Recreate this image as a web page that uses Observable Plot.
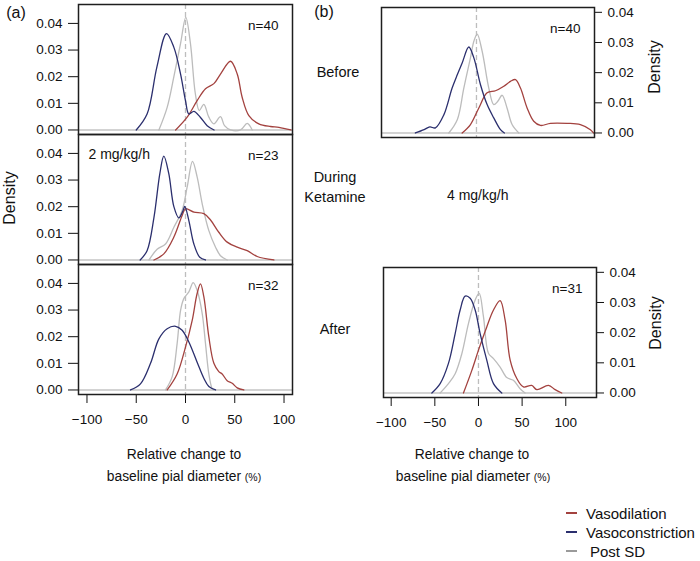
<!DOCTYPE html>
<html>
<head>
<meta charset="utf-8">
<script src="https://cdn.jsdelivr.net/npm/d3@7"></script>
<script src="https://cdn.jsdelivr.net/npm/@observablehq/plot@0.6"></script>
<style>
  html, body { margin: 0; padding: 0; background: #fff; }
  #fig { position: relative; width: 700px; height: 561px; background: #fff; overflow: hidden;
         font-family: "Liberation Sans", Arial, sans-serif; color: #111; }
  .lbl { position: absolute; white-space: nowrap; line-height: 1; }
  .panel { position: absolute; }
</style>
</head>
<body>
<div id="fig"></div>
<script>
// ---------------- data (relative change %, density) ----------------
const xTicks = [-100, -50, 0, 50, 100];
const yTicks = [0, 0.01, 0.02, 0.03, 0.04];
const groups = ["Vasodilation", "Vasoconstriction", "Post SD"];
const groupColors = ["#a3423f", "#2b2f6e", "#bcbcbc"];

// (a) 2 mg/kg/h
const a1Label = "n=40";
const a1Dilation = [[-10,0],[1.7,0.0048],[11.8,0.011],[20.3,0.0155],[28.8,0.0174],[35.5,0.021],[45.7,0.0258],[52.5,0.021],[57.5,0.0123],[64.3,0.0054],[74.4,0.0023],[86.3,0.0013],[94.8,0.001],[107,0]];
const a1Constriction = [[-50,0],[-39,0.006],[-29,0.0237],[-19.3,0.0362],[-11.8,0.031],[-5,0.021],[0,0.011],[3.4,0.006],[8.5,0.007],[15,0.0048],[22,0.0016],[29,0]];
const a1PostSD = [[-27,0],[-18.6,0.0085],[-11.8,0.02],[-5,0.0325],[0.3,0.0423],[5,0.0325],[10,0.0136],[14,0.0073],[18.6,0.0096],[23.7,0.0048],[28.8,0.0023],[35.5,0.005],[39.6,0.0016],[45.7,0],[55.8,0],[62.6,0.0025],[67.7,0]];

const a2Label = "n=23";
const a2Dose = "2 mg/kg/h";
const a2Dilation = [[-32,0],[-22,0.0023],[-11.8,0.0086],[-3.4,0.0167],[0,0.0192],[8.5,0.018],[18.6,0.0174],[25.4,0.015],[33.8,0.0104],[42.3,0.0067],[52.5,0.0048],[62.6,0.0035],[72.8,0.0013],[89.7,0]];
const a2Constriction = [[-46,0],[-39,0.0035],[-32,0.016],[-26,0.0325],[-22,0.039],[-17,0.0325],[-11.8,0.02],[-6.8,0.0158],[-2.4,0.0186],[-0.7,0.0201],[3.4,0.0148],[8.5,0.006],[14.5,0.001],[20.3,0]];
const a2PostSD = [[-37,0],[-28.8,0.004],[-20.3,0.006],[-11.8,0.0123],[-3.4,0.0186],[1.7,0.0274],[7.1,0.037],[11.8,0.0312],[17,0.021],[23.7,0.011],[30.5,0.0048],[35.5,0.0016],[42.3,0]];

const a3Label = "n=32";
const a3Dilation = [[-18.6,0],[-8.5,0.006],[0,0.0161],[6.8,0.0261],[11.8,0.0362],[15.2,0.0398],[18.6,0.035],[23.7,0.0199],[28.8,0.01],[33.8,0.0069],[37.2,0.006],[42.3,0.0035],[47.4,0.0025],[52.5,0.0008],[59.2,0]];
const a3Constriction = [[-55.8,0],[-45.7,0.0023],[-35.5,0.01],[-27,0.0192],[-18.6,0.023],[-10,0.0239],[-3.4,0.0224],[3.4,0.018],[11.8,0.0104],[18.6,0.0044],[23.7,0.0013],[30.5,0]];
const a3PostSD = [[-20.3,0],[-13.5,0.005],[-8.5,0.0174],[-5,0.0299],[-1.7,0.0343],[3.4,0.0368],[7.8,0.0403],[11.8,0.0374],[17,0.0286],[20.3,0.0174],[23.7,0.006],[27,0.0006],[28.8,0]];

// (b) 4 mg/kg/h
const b1Label = "n=40";
const b1Dilation = [[-16.4,0],[-6.9,0.0028],[2.7,0.0083],[12.2,0.0133],[21.8,0.014],[31.3,0.0155],[38.9,0.0171],[44.7,0.0177],[50.4,0.0149],[58,0.0083],[65.6,0.0039],[73.3,0.0025],[84.7,0.0032],[103.8,0.0032],[119,0.0028],[130.5,0.0011],[134,0]];
const b1Constriction = [[-70,0],[-60,0.0011],[-53.4,0.002],[-47,0.0017],[-37.4,0.006],[-27.9,0.0149],[-22,0.0193],[-16.4,0.0232],[-8.8,0.0285],[-3,0.0249],[4.6,0.016],[12.2,0.0094],[19.8,0.005],[27.5,0.0011],[32,0]];
const b1PostSD = [[-31.7,0],[-22,0.0044],[-14.5,0.0149],[-6.9,0.0249],[-3,0.0304],[0.8,0.0328],[6.5,0.0271],[14.1,0.0149],[19.8,0.0094],[24.4,0.0105],[29.4,0.0125],[35,0.0083],[40.8,0.0028],[48.5,0]];

const b3Label = "n=31";
const b3Dilation = [[-17.2,0],[-7.6,0.0075],[0,0.0142],[9.5,0.0219],[17.2,0.0275],[24.8,0.0306],[30.5,0.0242],[36.3,0.0109],[43.9,0.0048],[51.5,0.002],[61,0.0025],[66.8,0.0011],[80.2,0.0025],[87.8,0.0011],[95.4,0]];
const b3Constriction = [[-53.4,0],[-43.9,0.0031],[-34.4,0.0098],[-26.7,0.0197],[-21,0.0275],[-15.3,0.0321],[-9.5,0.0314],[-3.8,0.0275],[1.9,0.0197],[9.5,0.0109],[17.2,0.0031],[26.7,0]];
const b3PostSD = [[-43.9,0],[-34.4,0.0031],[-26.7,0.0064],[-19,0.0131],[-11.5,0.023],[-3.8,0.0308],[0.8,0.033],[5.7,0.0253],[11.5,0.0131],[17.2,0.0114],[24.8,0.0086],[32.4,0.0051],[40,0.0042],[47.7,0.0014],[53.4,0]];

// ---------------- layout ----------------
const fig = document.getElementById("fig");
const FONT = "'Liberation Sans', Arial, sans-serif";

function panel(cfg) {
  const {x0, x1, y0, y1, xDomain, yDomain, yAxis, xAxis, series, n, note} = cfg;
  const mL = yAxis === "left" ? 70 : 5;
  const mR = yAxis === "right" ? 50 : 5;
  const mT = 5;
  const mB = xAxis ? 40 : 5;
  const width = mL + (x1 - x0) + mR;
  const height = mT + (y1 - y0) + mB;
  const marks = [
    Plot.ruleY([0], {stroke: "#c4c4c4", strokeWidth: 1.4}),
    Plot.ruleX([0], {stroke: "#bdbdbd", strokeWidth: 1.3, strokeDasharray: "5,3"}),
  ];
  // draw order: post SD, dilation, constriction
  const order = [2, 0, 1];
  for (const i of order) {
    marks.push(Plot.line(series[i], {x: d => d[0], y: d => d[1], stroke: groupColors[i], strokeWidth: 1.3, curve: "catmull-rom"}));
  }
  marks.push(Plot.text([n], {frameAnchor: "top-right", dx: -14, dy: 21, textAnchor: "end", lineAnchor: "middle", fontSize: 13.5, fill: "#111"}));
  if (note) marks.push(Plot.text([note], {frameAnchor: "top-left", dx: 10, dy: 20, textAnchor: "start", lineAnchor: "middle", fontSize: 14, fill: "#111"}));
  marks.push(Plot.frame({stroke: "#1e1e1e", strokeWidth: 1.5}));
  const p = Plot.plot({
    width, height,
    marginLeft: mL, marginRight: mR, marginTop: mT, marginBottom: mB,
    style: {background: "transparent", fontFamily: FONT, fontSize: "13.5px", color: "#111", overflow: "visible"},
    x: xAxis
      ? {domain: xDomain, axis: "bottom", ticks: xTicks, tickSize: 9, tickPadding: 11, label: null}
      : {domain: xDomain, axis: null},
    y: yAxis
      ? {domain: yDomain, axis: yAxis, ticks: yTicks, tickFormat: d3.format(".2f"),
         tickSize: yAxis === "left" ? 10 : 7, tickPadding: 6, label: null}
      : {domain: yDomain, axis: null},
    marks
  });
  p.classList.add("panel");
  p.style.left = (x0 - mL) + "px";
  p.style.top = (y0 - mT) + "px";
  p.style.position = "absolute";
  p.style.maxWidth = "none";
  fig.appendChild(p);
}

const leftX = [-108.6, 108.6];
const leftY = [-0.0017, 0.0471];
const rightX = [-108.8, 135.2];
const rightY = [-0.0015, 0.0416];

panel({x0: 78, x1: 292, y0: 4, y1: 134, xDomain: leftX, yDomain: leftY, yAxis: "left", xAxis: false,
       series: [a1Dilation, a1Constriction, a1PostSD], n: a1Label});
panel({x0: 78, x1: 292, y0: 134, y1: 264, xDomain: leftX, yDomain: leftY, yAxis: "left", xAxis: false,
       series: [a2Dilation, a2Constriction, a2PostSD], n: a2Label, note: a2Dose});
panel({x0: 78, x1: 292, y0: 264, y1: 394, xDomain: leftX, yDomain: leftY, yAxis: "left", xAxis: true,
       series: [a3Dilation, a3Constriction, a3PostSD], n: a3Label});
panel({x0: 381, x1: 594, y0: 7, y1: 137, xDomain: rightX, yDomain: rightY, yAxis: "right", xAxis: false,
       series: [b1Dilation, b1Constriction, b1PostSD], n: b1Label});
panel({x0: 383, x1: 596, y0: 267, y1: 397, xDomain: rightX, yDomain: rightY, yAxis: "right", xAxis: true,
       series: [b3Dilation, b3Constriction, b3PostSD], n: b3Label});

// ---------------- text ----------------
function label(html, x, y, size, opts = {}) {
  const d = document.createElement("div");
  d.className = "lbl";
  d.innerHTML = html;
  d.style.left = x + "px";
  d.style.top = y + "px";
  d.style.fontSize = size + "px";
  const ax = opts.anchor === "start" ? "0" : "-50%";
  d.style.transform = `translate(${ax}, -50%)`;
  if (opts.rotate) { d.style.transformOrigin = "0 0"; d.style.transform = `rotate(${opts.rotate}deg) translate(-50%, -50%)`; }
  fig.appendChild(d);
  return d;
}

label("(a)", 16, 13, 16);
label("(b)", 324, 12, 16);
label("Density", 10, 198, 16, {rotate: -90});
label("Density", 655, 67, 16, {rotate: -90});
label("Density", 656, 323, 16, {rotate: -90});
label("Before", 338, 72, 14.5);
label("During", 335, 177, 14.5);
label("Ketamine", 335, 197, 14.5);
label("After", 335, 329, 14.5);
label("4 mg/kg/h", 447, 195, 14, {anchor: "start"});

const xLabel1 = "Relative change to";
const xLabel2 = "baseline pial diameter";
const pct = ' <span style="font-size:10.5px">(%)</span>';
label(xLabel1, 184, 455, 13.8);
label(xLabel2 + pct, 184, 477, 13.8);
label(xLabel1, 472, 455, 13.8);
label(xLabel2 + pct, 473, 477, 13.8);

// legend
const legendY = [513, 532, 551];
groups.forEach((g, i) => {
  const line = document.createElement("div");
  line.style.cssText = `position:absolute;left:566px;top:${legendY[i] - 1}px;width:11px;height:2px;background:${groupColors[i] === "#bcbcbc" ? "#9a9a9a" : groupColors[i]};`;
  fig.appendChild(line);
  label(g, g === "Post SD" ? 590 : 586, legendY[i], 15, {anchor: "start"});
});
</script>
</body>
</html>
